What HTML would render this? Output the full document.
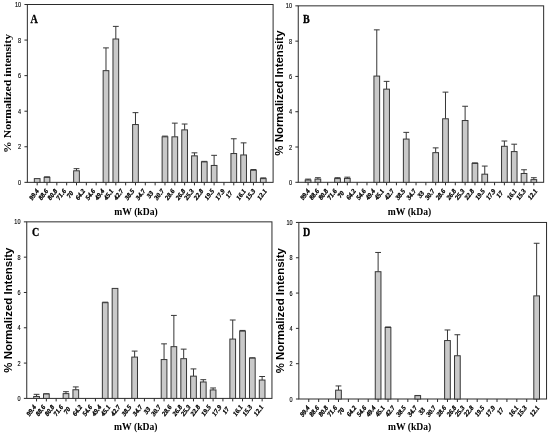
<!DOCTYPE html>
<html><head><meta charset="utf-8"><title>Normalized intensity vs mW</title>
<style>
html,body{margin:0;padding:0;background:#fff;}
body{width:550px;height:435px;overflow:hidden;font-family:"Liberation Sans",sans-serif;}
svg{display:block;will-change:transform;}
.sh{filter:blur(0.2px);}
.tx{filter:blur(0.3px);}
.yt{font-family:"Liberation Sans",sans-serif;font-size:6px;fill:#000;stroke:#000;stroke-width:0.12px;}
.xt{font-family:"Liberation Serif",serif;font-size:6.7px;font-weight:bold;font-style:italic;fill:#000;stroke:#000;stroke-width:0.3px;}
.pl{font-family:"Liberation Serif",serif;font-size:12.9px;font-weight:bold;fill:#000;stroke:#000;stroke-width:0.35px;}
.xl{font-family:"Liberation Serif",serif;font-size:11.2px;font-weight:bold;fill:#000;}
.yls{font-family:"Liberation Serif",serif;font-size:9.7px;font-weight:bold;fill:#000;}
.yl{font-family:"Liberation Sans",sans-serif;font-size:10.4px;font-weight:bold;fill:#000;}
</style></head>
<body>
<svg width="550" height="435" viewBox="0 0 550 435">
<rect x="0" y="0" width="550" height="435" fill="#ffffff"/>
<g class="sh">
<g id="pA" class="shapes">
<rect x="27.35" y="4.5" width="245.75" height="177.85" fill="none" stroke="#2b2b2b" stroke-width="1"/>
<line x1="24.45" y1="182.35" x2="27.35" y2="182.35" stroke="#2b2b2b" stroke-width="1"/>
<line x1="24.45" y1="146.78" x2="27.35" y2="146.78" stroke="#2b2b2b" stroke-width="1"/>
<line x1="24.45" y1="111.21" x2="27.35" y2="111.21" stroke="#2b2b2b" stroke-width="1"/>
<line x1="24.45" y1="75.64" x2="27.35" y2="75.64" stroke="#2b2b2b" stroke-width="1"/>
<line x1="24.45" y1="40.07" x2="27.35" y2="40.07" stroke="#2b2b2b" stroke-width="1"/>
<line x1="24.45" y1="4.5" x2="27.35" y2="4.5" stroke="#2b2b2b" stroke-width="1"/>
<line x1="37.18" y1="182.35" x2="37.18" y2="185.35" stroke="#2b2b2b" stroke-width="1"/>
<line x1="47.01" y1="182.35" x2="47.01" y2="185.35" stroke="#2b2b2b" stroke-width="1"/>
<line x1="56.84" y1="182.35" x2="56.84" y2="185.35" stroke="#2b2b2b" stroke-width="1"/>
<line x1="66.67" y1="182.35" x2="66.67" y2="185.35" stroke="#2b2b2b" stroke-width="1"/>
<line x1="76.5" y1="182.35" x2="76.5" y2="185.35" stroke="#2b2b2b" stroke-width="1"/>
<line x1="86.33" y1="182.35" x2="86.33" y2="185.35" stroke="#2b2b2b" stroke-width="1"/>
<line x1="96.16" y1="182.35" x2="96.16" y2="185.35" stroke="#2b2b2b" stroke-width="1"/>
<line x1="105.99" y1="182.35" x2="105.99" y2="185.35" stroke="#2b2b2b" stroke-width="1"/>
<line x1="115.82" y1="182.35" x2="115.82" y2="185.35" stroke="#2b2b2b" stroke-width="1"/>
<line x1="125.65" y1="182.35" x2="125.65" y2="185.35" stroke="#2b2b2b" stroke-width="1"/>
<line x1="135.48" y1="182.35" x2="135.48" y2="185.35" stroke="#2b2b2b" stroke-width="1"/>
<line x1="145.31" y1="182.35" x2="145.31" y2="185.35" stroke="#2b2b2b" stroke-width="1"/>
<line x1="155.14" y1="182.35" x2="155.14" y2="185.35" stroke="#2b2b2b" stroke-width="1"/>
<line x1="164.97" y1="182.35" x2="164.97" y2="185.35" stroke="#2b2b2b" stroke-width="1"/>
<line x1="174.8" y1="182.35" x2="174.8" y2="185.35" stroke="#2b2b2b" stroke-width="1"/>
<line x1="184.63" y1="182.35" x2="184.63" y2="185.35" stroke="#2b2b2b" stroke-width="1"/>
<line x1="194.46" y1="182.35" x2="194.46" y2="185.35" stroke="#2b2b2b" stroke-width="1"/>
<line x1="204.29" y1="182.35" x2="204.29" y2="185.35" stroke="#2b2b2b" stroke-width="1"/>
<line x1="214.12" y1="182.35" x2="214.12" y2="185.35" stroke="#2b2b2b" stroke-width="1"/>
<line x1="223.95" y1="182.35" x2="223.95" y2="185.35" stroke="#2b2b2b" stroke-width="1"/>
<line x1="233.78" y1="182.35" x2="233.78" y2="185.35" stroke="#2b2b2b" stroke-width="1"/>
<line x1="243.61" y1="182.35" x2="243.61" y2="185.35" stroke="#2b2b2b" stroke-width="1"/>
<line x1="253.44" y1="182.35" x2="253.44" y2="185.35" stroke="#2b2b2b" stroke-width="1"/>
<line x1="263.27" y1="182.35" x2="263.27" y2="185.35" stroke="#2b2b2b" stroke-width="1"/>
<rect x="34.33" y="178.62" width="5.7" height="3.73" fill="#c9c9c9" stroke="#363636" stroke-width="1"/>
<line x1="47.01" y1="177.37" x2="47.01" y2="176.84" stroke="#363636" stroke-width="1"/>
<line x1="44.11" y1="176.84" x2="49.91" y2="176.84" stroke="#363636" stroke-width="1"/>
<rect x="44.16" y="177.37" width="5.7" height="4.98" fill="#c9c9c9" stroke="#363636" stroke-width="1"/>
<line x1="76.5" y1="170.79" x2="76.5" y2="168.66" stroke="#363636" stroke-width="1"/>
<line x1="73.6" y1="168.66" x2="79.4" y2="168.66" stroke="#363636" stroke-width="1"/>
<rect x="73.65" y="170.79" width="5.7" height="11.56" fill="#c9c9c9" stroke="#363636" stroke-width="1"/>
<line x1="105.99" y1="70.66" x2="105.99" y2="47.9" stroke="#363636" stroke-width="1"/>
<line x1="103.09" y1="47.9" x2="108.89" y2="47.9" stroke="#363636" stroke-width="1"/>
<rect x="103.14" y="70.66" width="5.7" height="111.69" fill="#c9c9c9" stroke="#363636" stroke-width="1"/>
<line x1="115.82" y1="39" x2="115.82" y2="26.38" stroke="#363636" stroke-width="1"/>
<line x1="112.92" y1="26.38" x2="118.72" y2="26.38" stroke="#363636" stroke-width="1"/>
<rect x="112.97" y="39" width="5.7" height="143.35" fill="#c9c9c9" stroke="#363636" stroke-width="1"/>
<line x1="135.48" y1="124.55" x2="135.48" y2="112.63" stroke="#363636" stroke-width="1"/>
<line x1="132.58" y1="112.63" x2="138.38" y2="112.63" stroke="#363636" stroke-width="1"/>
<rect x="132.63" y="124.55" width="5.7" height="57.8" fill="#c9c9c9" stroke="#363636" stroke-width="1"/>
<line x1="164.97" y1="136.82" x2="164.97" y2="136.11" stroke="#363636" stroke-width="1"/>
<line x1="162.07" y1="136.11" x2="167.87" y2="136.11" stroke="#363636" stroke-width="1"/>
<rect x="162.12" y="136.82" width="5.7" height="45.53" fill="#c9c9c9" stroke="#363636" stroke-width="1"/>
<line x1="174.8" y1="136.82" x2="174.8" y2="123.13" stroke="#363636" stroke-width="1"/>
<line x1="171.9" y1="123.13" x2="177.7" y2="123.13" stroke="#363636" stroke-width="1"/>
<rect x="171.95" y="136.82" width="5.7" height="45.53" fill="#c9c9c9" stroke="#363636" stroke-width="1"/>
<line x1="184.63" y1="129.88" x2="184.63" y2="124.02" stroke="#363636" stroke-width="1"/>
<line x1="181.73" y1="124.02" x2="187.53" y2="124.02" stroke="#363636" stroke-width="1"/>
<rect x="181.78" y="129.88" width="5.7" height="52.47" fill="#c9c9c9" stroke="#363636" stroke-width="1"/>
<line x1="194.46" y1="155.85" x2="194.46" y2="152.83" stroke="#363636" stroke-width="1"/>
<line x1="191.56" y1="152.83" x2="197.36" y2="152.83" stroke="#363636" stroke-width="1"/>
<rect x="191.61" y="155.85" width="5.7" height="26.5" fill="#c9c9c9" stroke="#363636" stroke-width="1"/>
<line x1="204.29" y1="161.9" x2="204.29" y2="161.36" stroke="#363636" stroke-width="1"/>
<line x1="201.39" y1="161.36" x2="207.19" y2="161.36" stroke="#363636" stroke-width="1"/>
<rect x="201.44" y="161.9" width="5.7" height="20.45" fill="#c9c9c9" stroke="#363636" stroke-width="1"/>
<line x1="214.12" y1="165.45" x2="214.12" y2="155.32" stroke="#363636" stroke-width="1"/>
<line x1="211.22" y1="155.32" x2="217.02" y2="155.32" stroke="#363636" stroke-width="1"/>
<rect x="211.27" y="165.45" width="5.7" height="16.9" fill="#c9c9c9" stroke="#363636" stroke-width="1"/>
<line x1="233.78" y1="153.54" x2="233.78" y2="138.78" stroke="#363636" stroke-width="1"/>
<line x1="230.88" y1="138.78" x2="236.68" y2="138.78" stroke="#363636" stroke-width="1"/>
<rect x="230.93" y="153.54" width="5.7" height="28.81" fill="#c9c9c9" stroke="#363636" stroke-width="1"/>
<line x1="243.61" y1="154.96" x2="243.61" y2="142.87" stroke="#363636" stroke-width="1"/>
<line x1="240.71" y1="142.87" x2="246.51" y2="142.87" stroke="#363636" stroke-width="1"/>
<rect x="240.76" y="154.96" width="5.7" height="27.39" fill="#c9c9c9" stroke="#363636" stroke-width="1"/>
<line x1="253.44" y1="170.26" x2="253.44" y2="169.54" stroke="#363636" stroke-width="1"/>
<line x1="250.54" y1="169.54" x2="256.34" y2="169.54" stroke="#363636" stroke-width="1"/>
<rect x="250.59" y="170.26" width="5.7" height="12.09" fill="#c9c9c9" stroke="#363636" stroke-width="1"/>
<line x1="263.27" y1="178.62" x2="263.27" y2="177.9" stroke="#363636" stroke-width="1"/>
<line x1="260.37" y1="177.9" x2="266.17" y2="177.9" stroke="#363636" stroke-width="1"/>
<rect x="260.42" y="178.62" width="5.7" height="3.73" fill="#c9c9c9" stroke="#363636" stroke-width="1"/>
</g>
<g id="pB" class="shapes">
<rect x="298.25" y="5.85" width="245.4" height="176.45" fill="none" stroke="#2b2b2b" stroke-width="1"/>
<line x1="295.35" y1="182.3" x2="298.25" y2="182.3" stroke="#2b2b2b" stroke-width="1"/>
<line x1="295.35" y1="147.01" x2="298.25" y2="147.01" stroke="#2b2b2b" stroke-width="1"/>
<line x1="295.35" y1="111.72" x2="298.25" y2="111.72" stroke="#2b2b2b" stroke-width="1"/>
<line x1="295.35" y1="76.43" x2="298.25" y2="76.43" stroke="#2b2b2b" stroke-width="1"/>
<line x1="295.35" y1="41.14" x2="298.25" y2="41.14" stroke="#2b2b2b" stroke-width="1"/>
<line x1="295.35" y1="5.85" x2="298.25" y2="5.85" stroke="#2b2b2b" stroke-width="1"/>
<line x1="308.07" y1="182.3" x2="308.07" y2="185.3" stroke="#2b2b2b" stroke-width="1"/>
<line x1="317.88" y1="182.3" x2="317.88" y2="185.3" stroke="#2b2b2b" stroke-width="1"/>
<line x1="327.7" y1="182.3" x2="327.7" y2="185.3" stroke="#2b2b2b" stroke-width="1"/>
<line x1="337.51" y1="182.3" x2="337.51" y2="185.3" stroke="#2b2b2b" stroke-width="1"/>
<line x1="347.33" y1="182.3" x2="347.33" y2="185.3" stroke="#2b2b2b" stroke-width="1"/>
<line x1="357.15" y1="182.3" x2="357.15" y2="185.3" stroke="#2b2b2b" stroke-width="1"/>
<line x1="366.96" y1="182.3" x2="366.96" y2="185.3" stroke="#2b2b2b" stroke-width="1"/>
<line x1="376.78" y1="182.3" x2="376.78" y2="185.3" stroke="#2b2b2b" stroke-width="1"/>
<line x1="386.59" y1="182.3" x2="386.59" y2="185.3" stroke="#2b2b2b" stroke-width="1"/>
<line x1="396.41" y1="182.3" x2="396.41" y2="185.3" stroke="#2b2b2b" stroke-width="1"/>
<line x1="406.23" y1="182.3" x2="406.23" y2="185.3" stroke="#2b2b2b" stroke-width="1"/>
<line x1="416.04" y1="182.3" x2="416.04" y2="185.3" stroke="#2b2b2b" stroke-width="1"/>
<line x1="425.86" y1="182.3" x2="425.86" y2="185.3" stroke="#2b2b2b" stroke-width="1"/>
<line x1="435.67" y1="182.3" x2="435.67" y2="185.3" stroke="#2b2b2b" stroke-width="1"/>
<line x1="445.49" y1="182.3" x2="445.49" y2="185.3" stroke="#2b2b2b" stroke-width="1"/>
<line x1="455.31" y1="182.3" x2="455.31" y2="185.3" stroke="#2b2b2b" stroke-width="1"/>
<line x1="465.12" y1="182.3" x2="465.12" y2="185.3" stroke="#2b2b2b" stroke-width="1"/>
<line x1="474.94" y1="182.3" x2="474.94" y2="185.3" stroke="#2b2b2b" stroke-width="1"/>
<line x1="484.75" y1="182.3" x2="484.75" y2="185.3" stroke="#2b2b2b" stroke-width="1"/>
<line x1="494.57" y1="182.3" x2="494.57" y2="185.3" stroke="#2b2b2b" stroke-width="1"/>
<line x1="504.39" y1="182.3" x2="504.39" y2="185.3" stroke="#2b2b2b" stroke-width="1"/>
<line x1="514.2" y1="182.3" x2="514.2" y2="185.3" stroke="#2b2b2b" stroke-width="1"/>
<line x1="524.02" y1="182.3" x2="524.02" y2="185.3" stroke="#2b2b2b" stroke-width="1"/>
<line x1="533.83" y1="182.3" x2="533.83" y2="185.3" stroke="#2b2b2b" stroke-width="1"/>
<line x1="308.07" y1="180.01" x2="308.07" y2="179.12" stroke="#363636" stroke-width="1"/>
<line x1="305.17" y1="179.12" x2="310.97" y2="179.12" stroke="#363636" stroke-width="1"/>
<rect x="305.22" y="180.01" width="5.7" height="2.29" fill="#c9c9c9" stroke="#363636" stroke-width="1"/>
<line x1="317.88" y1="179.12" x2="317.88" y2="177.71" stroke="#363636" stroke-width="1"/>
<line x1="314.98" y1="177.71" x2="320.78" y2="177.71" stroke="#363636" stroke-width="1"/>
<rect x="315.03" y="179.12" width="5.7" height="3.18" fill="#c9c9c9" stroke="#363636" stroke-width="1"/>
<line x1="337.51" y1="178.59" x2="337.51" y2="177.71" stroke="#363636" stroke-width="1"/>
<line x1="334.61" y1="177.71" x2="340.41" y2="177.71" stroke="#363636" stroke-width="1"/>
<rect x="334.66" y="178.59" width="5.7" height="3.71" fill="#c9c9c9" stroke="#363636" stroke-width="1"/>
<line x1="347.33" y1="178.42" x2="347.33" y2="177.18" stroke="#363636" stroke-width="1"/>
<line x1="344.43" y1="177.18" x2="350.23" y2="177.18" stroke="#363636" stroke-width="1"/>
<rect x="344.48" y="178.42" width="5.7" height="3.88" fill="#c9c9c9" stroke="#363636" stroke-width="1"/>
<line x1="376.78" y1="76.08" x2="376.78" y2="29.85" stroke="#363636" stroke-width="1"/>
<line x1="373.88" y1="29.85" x2="379.68" y2="29.85" stroke="#363636" stroke-width="1"/>
<rect x="373.93" y="76.08" width="5.7" height="106.22" fill="#c9c9c9" stroke="#363636" stroke-width="1"/>
<line x1="386.59" y1="89.13" x2="386.59" y2="81.37" stroke="#363636" stroke-width="1"/>
<line x1="383.69" y1="81.37" x2="389.49" y2="81.37" stroke="#363636" stroke-width="1"/>
<rect x="383.74" y="89.13" width="5.7" height="93.17" fill="#c9c9c9" stroke="#363636" stroke-width="1"/>
<line x1="406.23" y1="139.07" x2="406.23" y2="132.36" stroke="#363636" stroke-width="1"/>
<line x1="403.33" y1="132.36" x2="409.13" y2="132.36" stroke="#363636" stroke-width="1"/>
<rect x="403.38" y="139.07" width="5.7" height="43.23" fill="#c9c9c9" stroke="#363636" stroke-width="1"/>
<line x1="435.67" y1="152.66" x2="435.67" y2="147.89" stroke="#363636" stroke-width="1"/>
<line x1="432.77" y1="147.89" x2="438.57" y2="147.89" stroke="#363636" stroke-width="1"/>
<rect x="432.82" y="152.66" width="5.7" height="29.64" fill="#c9c9c9" stroke="#363636" stroke-width="1"/>
<line x1="445.49" y1="118.78" x2="445.49" y2="92.13" stroke="#363636" stroke-width="1"/>
<line x1="442.59" y1="92.13" x2="448.39" y2="92.13" stroke="#363636" stroke-width="1"/>
<rect x="442.64" y="118.78" width="5.7" height="63.52" fill="#c9c9c9" stroke="#363636" stroke-width="1"/>
<line x1="465.12" y1="120.54" x2="465.12" y2="106.25" stroke="#363636" stroke-width="1"/>
<line x1="462.22" y1="106.25" x2="468.02" y2="106.25" stroke="#363636" stroke-width="1"/>
<rect x="462.27" y="120.54" width="5.7" height="61.76" fill="#c9c9c9" stroke="#363636" stroke-width="1"/>
<line x1="474.94" y1="163.42" x2="474.94" y2="162.89" stroke="#363636" stroke-width="1"/>
<line x1="472.04" y1="162.89" x2="477.84" y2="162.89" stroke="#363636" stroke-width="1"/>
<rect x="472.09" y="163.42" width="5.7" height="18.88" fill="#c9c9c9" stroke="#363636" stroke-width="1"/>
<line x1="484.75" y1="174.18" x2="484.75" y2="166.07" stroke="#363636" stroke-width="1"/>
<line x1="481.85" y1="166.07" x2="487.65" y2="166.07" stroke="#363636" stroke-width="1"/>
<rect x="481.9" y="174.18" width="5.7" height="8.12" fill="#c9c9c9" stroke="#363636" stroke-width="1"/>
<line x1="504.39" y1="146.3" x2="504.39" y2="141.01" stroke="#363636" stroke-width="1"/>
<line x1="501.49" y1="141.01" x2="507.29" y2="141.01" stroke="#363636" stroke-width="1"/>
<rect x="501.54" y="146.3" width="5.7" height="36" fill="#c9c9c9" stroke="#363636" stroke-width="1"/>
<line x1="514.2" y1="151.6" x2="514.2" y2="144.19" stroke="#363636" stroke-width="1"/>
<line x1="511.3" y1="144.19" x2="517.1" y2="144.19" stroke="#363636" stroke-width="1"/>
<rect x="511.35" y="151.6" width="5.7" height="30.7" fill="#c9c9c9" stroke="#363636" stroke-width="1"/>
<line x1="524.02" y1="173.48" x2="524.02" y2="169.77" stroke="#363636" stroke-width="1"/>
<line x1="521.12" y1="169.77" x2="526.92" y2="169.77" stroke="#363636" stroke-width="1"/>
<rect x="521.17" y="173.48" width="5.7" height="8.82" fill="#c9c9c9" stroke="#363636" stroke-width="1"/>
<line x1="533.83" y1="179.65" x2="533.83" y2="177.71" stroke="#363636" stroke-width="1"/>
<line x1="530.93" y1="177.71" x2="536.73" y2="177.71" stroke="#363636" stroke-width="1"/>
<rect x="530.98" y="179.65" width="5.7" height="2.65" fill="#c9c9c9" stroke="#363636" stroke-width="1"/>
</g>
<g id="pC" class="shapes">
<rect x="26.75" y="221.85" width="245.2" height="176.55" fill="none" stroke="#2b2b2b" stroke-width="1"/>
<line x1="23.85" y1="398.4" x2="26.75" y2="398.4" stroke="#2b2b2b" stroke-width="1"/>
<line x1="23.85" y1="363.09" x2="26.75" y2="363.09" stroke="#2b2b2b" stroke-width="1"/>
<line x1="23.85" y1="327.78" x2="26.75" y2="327.78" stroke="#2b2b2b" stroke-width="1"/>
<line x1="23.85" y1="292.47" x2="26.75" y2="292.47" stroke="#2b2b2b" stroke-width="1"/>
<line x1="23.85" y1="257.16" x2="26.75" y2="257.16" stroke="#2b2b2b" stroke-width="1"/>
<line x1="23.85" y1="221.85" x2="26.75" y2="221.85" stroke="#2b2b2b" stroke-width="1"/>
<line x1="36.56" y1="398.4" x2="36.56" y2="401.4" stroke="#2b2b2b" stroke-width="1"/>
<line x1="46.37" y1="398.4" x2="46.37" y2="401.4" stroke="#2b2b2b" stroke-width="1"/>
<line x1="56.17" y1="398.4" x2="56.17" y2="401.4" stroke="#2b2b2b" stroke-width="1"/>
<line x1="65.98" y1="398.4" x2="65.98" y2="401.4" stroke="#2b2b2b" stroke-width="1"/>
<line x1="75.79" y1="398.4" x2="75.79" y2="401.4" stroke="#2b2b2b" stroke-width="1"/>
<line x1="85.6" y1="398.4" x2="85.6" y2="401.4" stroke="#2b2b2b" stroke-width="1"/>
<line x1="95.41" y1="398.4" x2="95.41" y2="401.4" stroke="#2b2b2b" stroke-width="1"/>
<line x1="105.21" y1="398.4" x2="105.21" y2="401.4" stroke="#2b2b2b" stroke-width="1"/>
<line x1="115.02" y1="398.4" x2="115.02" y2="401.4" stroke="#2b2b2b" stroke-width="1"/>
<line x1="124.83" y1="398.4" x2="124.83" y2="401.4" stroke="#2b2b2b" stroke-width="1"/>
<line x1="134.64" y1="398.4" x2="134.64" y2="401.4" stroke="#2b2b2b" stroke-width="1"/>
<line x1="144.45" y1="398.4" x2="144.45" y2="401.4" stroke="#2b2b2b" stroke-width="1"/>
<line x1="154.25" y1="398.4" x2="154.25" y2="401.4" stroke="#2b2b2b" stroke-width="1"/>
<line x1="164.06" y1="398.4" x2="164.06" y2="401.4" stroke="#2b2b2b" stroke-width="1"/>
<line x1="173.87" y1="398.4" x2="173.87" y2="401.4" stroke="#2b2b2b" stroke-width="1"/>
<line x1="183.68" y1="398.4" x2="183.68" y2="401.4" stroke="#2b2b2b" stroke-width="1"/>
<line x1="193.49" y1="398.4" x2="193.49" y2="401.4" stroke="#2b2b2b" stroke-width="1"/>
<line x1="203.29" y1="398.4" x2="203.29" y2="401.4" stroke="#2b2b2b" stroke-width="1"/>
<line x1="213.1" y1="398.4" x2="213.1" y2="401.4" stroke="#2b2b2b" stroke-width="1"/>
<line x1="222.91" y1="398.4" x2="222.91" y2="401.4" stroke="#2b2b2b" stroke-width="1"/>
<line x1="232.72" y1="398.4" x2="232.72" y2="401.4" stroke="#2b2b2b" stroke-width="1"/>
<line x1="242.53" y1="398.4" x2="242.53" y2="401.4" stroke="#2b2b2b" stroke-width="1"/>
<line x1="252.33" y1="398.4" x2="252.33" y2="401.4" stroke="#2b2b2b" stroke-width="1"/>
<line x1="262.14" y1="398.4" x2="262.14" y2="401.4" stroke="#2b2b2b" stroke-width="1"/>
<line x1="36.56" y1="396.46" x2="36.56" y2="394.34" stroke="#363636" stroke-width="1"/>
<line x1="33.66" y1="394.34" x2="39.46" y2="394.34" stroke="#363636" stroke-width="1"/>
<rect x="33.71" y="396.46" width="5.7" height="1.94" fill="#c9c9c9" stroke="#363636" stroke-width="1"/>
<line x1="46.37" y1="393.99" x2="46.37" y2="393.81" stroke="#363636" stroke-width="1"/>
<line x1="43.47" y1="393.81" x2="49.27" y2="393.81" stroke="#363636" stroke-width="1"/>
<rect x="43.52" y="393.99" width="5.7" height="4.41" fill="#c9c9c9" stroke="#363636" stroke-width="1"/>
<line x1="65.98" y1="393.63" x2="65.98" y2="391.69" stroke="#363636" stroke-width="1"/>
<line x1="63.08" y1="391.69" x2="68.88" y2="391.69" stroke="#363636" stroke-width="1"/>
<rect x="63.13" y="393.63" width="5.7" height="4.77" fill="#c9c9c9" stroke="#363636" stroke-width="1"/>
<line x1="75.79" y1="389.75" x2="75.79" y2="386.92" stroke="#363636" stroke-width="1"/>
<line x1="72.89" y1="386.92" x2="78.69" y2="386.92" stroke="#363636" stroke-width="1"/>
<rect x="72.94" y="389.75" width="5.7" height="8.65" fill="#c9c9c9" stroke="#363636" stroke-width="1"/>
<line x1="105.21" y1="302.71" x2="105.21" y2="302.18" stroke="#363636" stroke-width="1"/>
<line x1="102.31" y1="302.18" x2="108.11" y2="302.18" stroke="#363636" stroke-width="1"/>
<rect x="102.36" y="302.71" width="5.7" height="95.69" fill="#c9c9c9" stroke="#363636" stroke-width="1"/>
<rect x="112.17" y="288.41" width="5.7" height="109.99" fill="#c9c9c9" stroke="#363636" stroke-width="1"/>
<line x1="134.64" y1="357.09" x2="134.64" y2="351.08" stroke="#363636" stroke-width="1"/>
<line x1="131.74" y1="351.08" x2="137.54" y2="351.08" stroke="#363636" stroke-width="1"/>
<rect x="131.79" y="357.09" width="5.7" height="41.31" fill="#c9c9c9" stroke="#363636" stroke-width="1"/>
<line x1="164.06" y1="359.56" x2="164.06" y2="343.85" stroke="#363636" stroke-width="1"/>
<line x1="161.16" y1="343.85" x2="166.96" y2="343.85" stroke="#363636" stroke-width="1"/>
<rect x="161.21" y="359.56" width="5.7" height="38.84" fill="#c9c9c9" stroke="#363636" stroke-width="1"/>
<line x1="173.87" y1="346.67" x2="173.87" y2="315.42" stroke="#363636" stroke-width="1"/>
<line x1="170.97" y1="315.42" x2="176.77" y2="315.42" stroke="#363636" stroke-width="1"/>
<rect x="171.02" y="346.67" width="5.7" height="51.73" fill="#c9c9c9" stroke="#363636" stroke-width="1"/>
<line x1="183.68" y1="358.68" x2="183.68" y2="349.14" stroke="#363636" stroke-width="1"/>
<line x1="180.78" y1="349.14" x2="186.58" y2="349.14" stroke="#363636" stroke-width="1"/>
<rect x="180.83" y="358.68" width="5.7" height="39.72" fill="#c9c9c9" stroke="#363636" stroke-width="1"/>
<line x1="193.49" y1="376.15" x2="193.49" y2="368.92" stroke="#363636" stroke-width="1"/>
<line x1="190.59" y1="368.92" x2="196.39" y2="368.92" stroke="#363636" stroke-width="1"/>
<rect x="190.64" y="376.15" width="5.7" height="22.25" fill="#c9c9c9" stroke="#363636" stroke-width="1"/>
<line x1="203.29" y1="381.98" x2="203.29" y2="379.69" stroke="#363636" stroke-width="1"/>
<line x1="200.39" y1="379.69" x2="206.19" y2="379.69" stroke="#363636" stroke-width="1"/>
<rect x="200.44" y="381.98" width="5.7" height="16.42" fill="#c9c9c9" stroke="#363636" stroke-width="1"/>
<line x1="213.1" y1="389.93" x2="213.1" y2="387.98" stroke="#363636" stroke-width="1"/>
<line x1="210.2" y1="387.98" x2="216" y2="387.98" stroke="#363636" stroke-width="1"/>
<rect x="210.25" y="389.93" width="5.7" height="8.47" fill="#c9c9c9" stroke="#363636" stroke-width="1"/>
<line x1="232.72" y1="339.08" x2="232.72" y2="320.01" stroke="#363636" stroke-width="1"/>
<line x1="229.82" y1="320.01" x2="235.62" y2="320.01" stroke="#363636" stroke-width="1"/>
<rect x="229.87" y="339.08" width="5.7" height="59.32" fill="#c9c9c9" stroke="#363636" stroke-width="1"/>
<line x1="242.53" y1="331.13" x2="242.53" y2="330.43" stroke="#363636" stroke-width="1"/>
<line x1="239.63" y1="330.43" x2="245.43" y2="330.43" stroke="#363636" stroke-width="1"/>
<rect x="239.68" y="331.13" width="5.7" height="67.27" fill="#c9c9c9" stroke="#363636" stroke-width="1"/>
<line x1="252.33" y1="358.15" x2="252.33" y2="357.79" stroke="#363636" stroke-width="1"/>
<line x1="249.43" y1="357.79" x2="255.23" y2="357.79" stroke="#363636" stroke-width="1"/>
<rect x="249.48" y="358.15" width="5.7" height="40.25" fill="#c9c9c9" stroke="#363636" stroke-width="1"/>
<line x1="262.14" y1="380.04" x2="262.14" y2="376.51" stroke="#363636" stroke-width="1"/>
<line x1="259.24" y1="376.51" x2="265.04" y2="376.51" stroke="#363636" stroke-width="1"/>
<rect x="259.29" y="380.04" width="5.7" height="18.36" fill="#c9c9c9" stroke="#363636" stroke-width="1"/>
</g>
<g id="pD" class="shapes">
<rect x="298.85" y="222.45" width="247.7" height="176.55" fill="none" stroke="#2b2b2b" stroke-width="1"/>
<line x1="295.95" y1="399" x2="298.85" y2="399" stroke="#2b2b2b" stroke-width="1"/>
<line x1="295.95" y1="363.69" x2="298.85" y2="363.69" stroke="#2b2b2b" stroke-width="1"/>
<line x1="295.95" y1="328.38" x2="298.85" y2="328.38" stroke="#2b2b2b" stroke-width="1"/>
<line x1="295.95" y1="293.07" x2="298.85" y2="293.07" stroke="#2b2b2b" stroke-width="1"/>
<line x1="295.95" y1="257.76" x2="298.85" y2="257.76" stroke="#2b2b2b" stroke-width="1"/>
<line x1="295.95" y1="222.45" x2="298.85" y2="222.45" stroke="#2b2b2b" stroke-width="1"/>
<line x1="308.76" y1="399" x2="308.76" y2="402" stroke="#2b2b2b" stroke-width="1"/>
<line x1="318.67" y1="399" x2="318.67" y2="402" stroke="#2b2b2b" stroke-width="1"/>
<line x1="328.57" y1="399" x2="328.57" y2="402" stroke="#2b2b2b" stroke-width="1"/>
<line x1="338.48" y1="399" x2="338.48" y2="402" stroke="#2b2b2b" stroke-width="1"/>
<line x1="348.39" y1="399" x2="348.39" y2="402" stroke="#2b2b2b" stroke-width="1"/>
<line x1="358.3" y1="399" x2="358.3" y2="402" stroke="#2b2b2b" stroke-width="1"/>
<line x1="368.21" y1="399" x2="368.21" y2="402" stroke="#2b2b2b" stroke-width="1"/>
<line x1="378.11" y1="399" x2="378.11" y2="402" stroke="#2b2b2b" stroke-width="1"/>
<line x1="388.02" y1="399" x2="388.02" y2="402" stroke="#2b2b2b" stroke-width="1"/>
<line x1="397.93" y1="399" x2="397.93" y2="402" stroke="#2b2b2b" stroke-width="1"/>
<line x1="407.84" y1="399" x2="407.84" y2="402" stroke="#2b2b2b" stroke-width="1"/>
<line x1="417.75" y1="399" x2="417.75" y2="402" stroke="#2b2b2b" stroke-width="1"/>
<line x1="427.65" y1="399" x2="427.65" y2="402" stroke="#2b2b2b" stroke-width="1"/>
<line x1="437.56" y1="399" x2="437.56" y2="402" stroke="#2b2b2b" stroke-width="1"/>
<line x1="447.47" y1="399" x2="447.47" y2="402" stroke="#2b2b2b" stroke-width="1"/>
<line x1="457.38" y1="399" x2="457.38" y2="402" stroke="#2b2b2b" stroke-width="1"/>
<line x1="467.29" y1="399" x2="467.29" y2="402" stroke="#2b2b2b" stroke-width="1"/>
<line x1="477.19" y1="399" x2="477.19" y2="402" stroke="#2b2b2b" stroke-width="1"/>
<line x1="487.1" y1="399" x2="487.1" y2="402" stroke="#2b2b2b" stroke-width="1"/>
<line x1="497.01" y1="399" x2="497.01" y2="402" stroke="#2b2b2b" stroke-width="1"/>
<line x1="506.92" y1="399" x2="506.92" y2="402" stroke="#2b2b2b" stroke-width="1"/>
<line x1="516.83" y1="399" x2="516.83" y2="402" stroke="#2b2b2b" stroke-width="1"/>
<line x1="526.73" y1="399" x2="526.73" y2="402" stroke="#2b2b2b" stroke-width="1"/>
<line x1="536.64" y1="399" x2="536.64" y2="402" stroke="#2b2b2b" stroke-width="1"/>
<line x1="338.48" y1="390.17" x2="338.48" y2="385.94" stroke="#363636" stroke-width="1"/>
<line x1="335.58" y1="385.94" x2="341.38" y2="385.94" stroke="#363636" stroke-width="1"/>
<rect x="335.63" y="390.17" width="5.7" height="8.83" fill="#c9c9c9" stroke="#363636" stroke-width="1"/>
<line x1="378.11" y1="271.71" x2="378.11" y2="252.46" stroke="#363636" stroke-width="1"/>
<line x1="375.21" y1="252.46" x2="381.01" y2="252.46" stroke="#363636" stroke-width="1"/>
<rect x="375.26" y="271.71" width="5.7" height="127.29" fill="#c9c9c9" stroke="#363636" stroke-width="1"/>
<line x1="388.02" y1="327.5" x2="388.02" y2="326.97" stroke="#363636" stroke-width="1"/>
<line x1="385.12" y1="326.97" x2="390.92" y2="326.97" stroke="#363636" stroke-width="1"/>
<rect x="385.17" y="327.5" width="5.7" height="71.5" fill="#c9c9c9" stroke="#363636" stroke-width="1"/>
<line x1="417.75" y1="395.65" x2="417.75" y2="395.47" stroke="#363636" stroke-width="1"/>
<line x1="414.85" y1="395.47" x2="420.65" y2="395.47" stroke="#363636" stroke-width="1"/>
<rect x="414.9" y="395.65" width="5.7" height="3.35" fill="#c9c9c9" stroke="#363636" stroke-width="1"/>
<line x1="447.47" y1="340.56" x2="447.47" y2="329.97" stroke="#363636" stroke-width="1"/>
<line x1="444.57" y1="329.97" x2="450.37" y2="329.97" stroke="#363636" stroke-width="1"/>
<rect x="444.62" y="340.56" width="5.7" height="58.44" fill="#c9c9c9" stroke="#363636" stroke-width="1"/>
<line x1="457.38" y1="355.75" x2="457.38" y2="334.74" stroke="#363636" stroke-width="1"/>
<line x1="454.48" y1="334.74" x2="460.28" y2="334.74" stroke="#363636" stroke-width="1"/>
<rect x="454.53" y="355.75" width="5.7" height="43.25" fill="#c9c9c9" stroke="#363636" stroke-width="1"/>
<line x1="536.64" y1="295.89" x2="536.64" y2="243.28" stroke="#363636" stroke-width="1"/>
<line x1="533.74" y1="243.28" x2="539.54" y2="243.28" stroke="#363636" stroke-width="1"/>
<rect x="533.79" y="295.89" width="5.7" height="103.11" fill="#c9c9c9" stroke="#363636" stroke-width="1"/>
</g>
</g>
<g class="tx">
<g id="tA">
<text transform="translate(21.05 184.85) scale(0.92 1.22)" text-anchor="end" class="yt">0</text>
<text transform="translate(21.05 149.28) scale(0.92 1.22)" text-anchor="end" class="yt">2</text>
<text transform="translate(21.05 113.71) scale(0.92 1.22)" text-anchor="end" class="yt">4</text>
<text transform="translate(21.05 78.14) scale(0.92 1.22)" text-anchor="end" class="yt">6</text>
<text transform="translate(21.05 42.57) scale(0.92 1.22)" text-anchor="end" class="yt">8</text>
<text transform="translate(21.05 7) scale(0.92 1.22)" text-anchor="end" class="yt">10</text>
<text transform="translate(34.18 194.55) rotate(-53)" text-anchor="middle" y="2" class="xt">99.4</text>
<text transform="translate(43.41 194.55) rotate(-53)" text-anchor="middle" y="2" class="xt">88.6</text>
<text transform="translate(52.54 194.55) rotate(-53)" text-anchor="middle" y="2" class="xt">80.8</text>
<text transform="translate(61.27 194.55) rotate(-53)" text-anchor="middle" y="2" class="xt">71.6</text>
<text transform="translate(70.1 194.55) rotate(-53)" text-anchor="middle" y="2" class="xt">70</text>
<text transform="translate(80.43 194.55) rotate(-53)" text-anchor="middle" y="2" class="xt">64.2</text>
<text transform="translate(90.36 194.55) rotate(-53)" text-anchor="middle" y="2" class="xt">54.6</text>
<text transform="translate(99.59 194.55) rotate(-53)" text-anchor="middle" y="2" class="xt">49.4</text>
<text transform="translate(108.72 194.55) rotate(-53)" text-anchor="middle" y="2" class="xt">45.1</text>
<text transform="translate(118.65 194.55) rotate(-53)" text-anchor="middle" y="2" class="xt">42.7</text>
<text transform="translate(129.68 194.55) rotate(-53)" text-anchor="middle" y="2" class="xt">38.5</text>
<text transform="translate(140.71 194.55) rotate(-53)" text-anchor="middle" y="2" class="xt">34.7</text>
<text transform="translate(150.14 194.55) rotate(-53)" text-anchor="middle" y="2" class="xt">33</text>
<text transform="translate(159.27 194.55) rotate(-53)" text-anchor="middle" y="2" class="xt">30.7</text>
<text transform="translate(170 194.55) rotate(-53)" text-anchor="middle" y="2" class="xt">28.6</text>
<text transform="translate(180.63 194.55) rotate(-53)" text-anchor="middle" y="2" class="xt">26.8</text>
<text transform="translate(189.16 194.55) rotate(-53)" text-anchor="middle" y="2" class="xt">25.3</text>
<text transform="translate(198.69 194.55) rotate(-53)" text-anchor="middle" y="2" class="xt">22.8</text>
<text transform="translate(209.42 194.55) rotate(-53)" text-anchor="middle" y="2" class="xt">19.5</text>
<text transform="translate(220.25 194.55) rotate(-53)" text-anchor="middle" y="2" class="xt">17.9</text>
<text transform="translate(229.18 194.55) rotate(-53)" text-anchor="middle" y="2" class="xt">17</text>
<text transform="translate(241.21 194.55) rotate(-53)" text-anchor="middle" y="2" class="xt">16.1</text>
<text transform="translate(250.64 194.55) rotate(-53)" text-anchor="middle" y="2" class="xt">15.3</text>
<text transform="translate(262.07 194.55) rotate(-53)" text-anchor="middle" y="2" class="xt">12.1</text>
<text transform="translate(30.5 22.6) scale(0.78 1)" class="pl">A</text>
<text x="136" y="214.6" text-anchor="middle" class="xl" textLength="43.4" lengthAdjust="spacingAndGlyphs">mW (kDa)</text>
<text transform="translate(10.65 93.42) rotate(-90)" text-anchor="middle" class="yls" textLength="119" lengthAdjust="spacingAndGlyphs">% Normalized intensity</text>
</g>
<g id="tB">
<text transform="translate(291.95 184.8) scale(0.92 1.22)" text-anchor="end" class="yt">0</text>
<text transform="translate(291.95 149.51) scale(0.92 1.22)" text-anchor="end" class="yt">2</text>
<text transform="translate(291.95 114.22) scale(0.92 1.22)" text-anchor="end" class="yt">4</text>
<text transform="translate(291.95 78.93) scale(0.92 1.22)" text-anchor="end" class="yt">6</text>
<text transform="translate(291.95 43.64) scale(0.92 1.22)" text-anchor="end" class="yt">8</text>
<text transform="translate(291.95 8.35) scale(0.92 1.22)" text-anchor="end" class="yt">10</text>
<text transform="translate(305.07 194.5) rotate(-53)" text-anchor="middle" y="2" class="xt">99.4</text>
<text transform="translate(314.28 194.5) rotate(-53)" text-anchor="middle" y="2" class="xt">88.6</text>
<text transform="translate(323.4 194.5) rotate(-53)" text-anchor="middle" y="2" class="xt">80.8</text>
<text transform="translate(332.11 194.5) rotate(-53)" text-anchor="middle" y="2" class="xt">71.6</text>
<text transform="translate(340.93 194.5) rotate(-53)" text-anchor="middle" y="2" class="xt">70</text>
<text transform="translate(351.25 194.5) rotate(-53)" text-anchor="middle" y="2" class="xt">64.2</text>
<text transform="translate(361.16 194.5) rotate(-53)" text-anchor="middle" y="2" class="xt">54.6</text>
<text transform="translate(370.38 194.5) rotate(-53)" text-anchor="middle" y="2" class="xt">49.4</text>
<text transform="translate(379.49 194.5) rotate(-53)" text-anchor="middle" y="2" class="xt">45.1</text>
<text transform="translate(389.41 194.5) rotate(-53)" text-anchor="middle" y="2" class="xt">42.7</text>
<text transform="translate(400.43 194.5) rotate(-53)" text-anchor="middle" y="2" class="xt">38.5</text>
<text transform="translate(411.44 194.5) rotate(-53)" text-anchor="middle" y="2" class="xt">34.7</text>
<text transform="translate(420.86 194.5) rotate(-53)" text-anchor="middle" y="2" class="xt">33</text>
<text transform="translate(429.97 194.5) rotate(-53)" text-anchor="middle" y="2" class="xt">30.7</text>
<text transform="translate(440.69 194.5) rotate(-53)" text-anchor="middle" y="2" class="xt">28.6</text>
<text transform="translate(451.31 194.5) rotate(-53)" text-anchor="middle" y="2" class="xt">26.8</text>
<text transform="translate(459.82 194.5) rotate(-53)" text-anchor="middle" y="2" class="xt">25.3</text>
<text transform="translate(469.34 194.5) rotate(-53)" text-anchor="middle" y="2" class="xt">22.8</text>
<text transform="translate(480.05 194.5) rotate(-53)" text-anchor="middle" y="2" class="xt">19.5</text>
<text transform="translate(490.87 194.5) rotate(-53)" text-anchor="middle" y="2" class="xt">17.9</text>
<text transform="translate(499.79 194.5) rotate(-53)" text-anchor="middle" y="2" class="xt">17</text>
<text transform="translate(511.8 194.5) rotate(-53)" text-anchor="middle" y="2" class="xt">16.1</text>
<text transform="translate(521.22 194.5) rotate(-53)" text-anchor="middle" y="2" class="xt">15.3</text>
<text transform="translate(532.63 194.5) rotate(-53)" text-anchor="middle" y="2" class="xt">12.1</text>
<text transform="translate(303 22.8) scale(0.78 1)" class="pl">B</text>
<text x="409.5" y="214.6" text-anchor="middle" class="xl" textLength="43.4" lengthAdjust="spacingAndGlyphs">mW (kDa)</text>
<text transform="translate(283.15 93.08) rotate(-90)" text-anchor="middle" class="yl" textLength="125.2" lengthAdjust="spacingAndGlyphs">% Normalized Intensity</text>
</g>
<g id="tC">
<text transform="translate(20.45 400.9) scale(0.92 1.22)" text-anchor="end" class="yt">0</text>
<text transform="translate(20.45 365.59) scale(0.92 1.22)" text-anchor="end" class="yt">2</text>
<text transform="translate(20.45 330.28) scale(0.92 1.22)" text-anchor="end" class="yt">4</text>
<text transform="translate(20.45 294.97) scale(0.92 1.22)" text-anchor="end" class="yt">6</text>
<text transform="translate(20.45 259.66) scale(0.92 1.22)" text-anchor="end" class="yt">8</text>
<text transform="translate(20.45 224.35) scale(0.92 1.22)" text-anchor="end" class="yt">10</text>
<text transform="translate(31.36 410.6) rotate(-53)" text-anchor="middle" y="2" class="xt">99.4</text>
<text transform="translate(40.57 410.6) rotate(-53)" text-anchor="middle" y="2" class="xt">88.6</text>
<text transform="translate(49.67 410.6) rotate(-53)" text-anchor="middle" y="2" class="xt">80.8</text>
<text transform="translate(58.38 410.6) rotate(-53)" text-anchor="middle" y="2" class="xt">71.6</text>
<text transform="translate(67.19 410.6) rotate(-53)" text-anchor="middle" y="2" class="xt">70</text>
<text transform="translate(77.5 410.6) rotate(-53)" text-anchor="middle" y="2" class="xt">64.2</text>
<text transform="translate(87.41 410.6) rotate(-53)" text-anchor="middle" y="2" class="xt">54.6</text>
<text transform="translate(96.61 410.6) rotate(-53)" text-anchor="middle" y="2" class="xt">49.4</text>
<text transform="translate(105.72 410.6) rotate(-53)" text-anchor="middle" y="2" class="xt">45.1</text>
<text transform="translate(115.63 410.6) rotate(-53)" text-anchor="middle" y="2" class="xt">42.7</text>
<text transform="translate(126.64 410.6) rotate(-53)" text-anchor="middle" y="2" class="xt">38.5</text>
<text transform="translate(137.65 410.6) rotate(-53)" text-anchor="middle" y="2" class="xt">34.7</text>
<text transform="translate(147.05 410.6) rotate(-53)" text-anchor="middle" y="2" class="xt">33</text>
<text transform="translate(156.16 410.6) rotate(-53)" text-anchor="middle" y="2" class="xt">30.7</text>
<text transform="translate(166.87 410.6) rotate(-53)" text-anchor="middle" y="2" class="xt">28.6</text>
<text transform="translate(177.48 410.6) rotate(-53)" text-anchor="middle" y="2" class="xt">26.8</text>
<text transform="translate(185.99 410.6) rotate(-53)" text-anchor="middle" y="2" class="xt">25.3</text>
<text transform="translate(195.49 410.6) rotate(-53)" text-anchor="middle" y="2" class="xt">22.8</text>
<text transform="translate(206.2 410.6) rotate(-53)" text-anchor="middle" y="2" class="xt">19.5</text>
<text transform="translate(217.01 410.6) rotate(-53)" text-anchor="middle" y="2" class="xt">17.9</text>
<text transform="translate(225.92 410.6) rotate(-53)" text-anchor="middle" y="2" class="xt">17</text>
<text transform="translate(237.93 410.6) rotate(-53)" text-anchor="middle" y="2" class="xt">16.1</text>
<text transform="translate(247.33 410.6) rotate(-53)" text-anchor="middle" y="2" class="xt">15.3</text>
<text transform="translate(258.74 410.6) rotate(-53)" text-anchor="middle" y="2" class="xt">12.1</text>
<text transform="translate(31.9 236) scale(0.78 1)" class="pl">C</text>
<text x="135.8" y="430" text-anchor="middle" class="xl" textLength="43.4" lengthAdjust="spacingAndGlyphs">mW (kDa)</text>
<text transform="translate(11.65 310.12) rotate(-90)" text-anchor="middle" class="yl" textLength="125.2" lengthAdjust="spacingAndGlyphs">% Normalized Intensity</text>
</g>
<g id="tD">
<text transform="translate(292.55 401.5) scale(0.92 1.22)" text-anchor="end" class="yt">0</text>
<text transform="translate(292.55 366.19) scale(0.92 1.22)" text-anchor="end" class="yt">2</text>
<text transform="translate(292.55 330.88) scale(0.92 1.22)" text-anchor="end" class="yt">4</text>
<text transform="translate(292.55 295.57) scale(0.92 1.22)" text-anchor="end" class="yt">6</text>
<text transform="translate(292.55 260.26) scale(0.92 1.22)" text-anchor="end" class="yt">8</text>
<text transform="translate(292.55 224.95) scale(0.92 1.22)" text-anchor="end" class="yt">10</text>
<text transform="translate(304.96 411.2) rotate(-53)" text-anchor="middle" y="2" class="xt">99.4</text>
<text transform="translate(314.27 411.2) rotate(-53)" text-anchor="middle" y="2" class="xt">88.6</text>
<text transform="translate(323.47 411.2) rotate(-53)" text-anchor="middle" y="2" class="xt">80.8</text>
<text transform="translate(332.28 411.2) rotate(-53)" text-anchor="middle" y="2" class="xt">71.6</text>
<text transform="translate(341.19 411.2) rotate(-53)" text-anchor="middle" y="2" class="xt">70</text>
<text transform="translate(351.6 411.2) rotate(-53)" text-anchor="middle" y="2" class="xt">64.2</text>
<text transform="translate(361.61 411.2) rotate(-53)" text-anchor="middle" y="2" class="xt">54.6</text>
<text transform="translate(370.91 411.2) rotate(-53)" text-anchor="middle" y="2" class="xt">49.4</text>
<text transform="translate(380.12 411.2) rotate(-53)" text-anchor="middle" y="2" class="xt">45.1</text>
<text transform="translate(390.13 411.2) rotate(-53)" text-anchor="middle" y="2" class="xt">42.7</text>
<text transform="translate(401.24 411.2) rotate(-53)" text-anchor="middle" y="2" class="xt">38.5</text>
<text transform="translate(412.35 411.2) rotate(-53)" text-anchor="middle" y="2" class="xt">34.7</text>
<text transform="translate(421.85 411.2) rotate(-53)" text-anchor="middle" y="2" class="xt">33</text>
<text transform="translate(431.06 411.2) rotate(-53)" text-anchor="middle" y="2" class="xt">30.7</text>
<text transform="translate(441.37 411.2) rotate(-53)" text-anchor="middle" y="2" class="xt">28.6</text>
<text transform="translate(451.58 411.2) rotate(-53)" text-anchor="middle" y="2" class="xt">26.8</text>
<text transform="translate(459.89 411.2) rotate(-53)" text-anchor="middle" y="2" class="xt">25.3</text>
<text transform="translate(468.79 411.2) rotate(-53)" text-anchor="middle" y="2" class="xt">22.8</text>
<text transform="translate(479.6 411.2) rotate(-53)" text-anchor="middle" y="2" class="xt">19.5</text>
<text transform="translate(490.51 411.2) rotate(-53)" text-anchor="middle" y="2" class="xt">17.9</text>
<text transform="translate(500.52 411.2) rotate(-53)" text-anchor="middle" y="2" class="xt">17</text>
<text transform="translate(513.63 411.2) rotate(-53)" text-anchor="middle" y="2" class="xt">16.1</text>
<text transform="translate(522.13 411.2) rotate(-53)" text-anchor="middle" y="2" class="xt">15.3</text>
<text transform="translate(534.64 411.2) rotate(-53)" text-anchor="middle" y="2" class="xt">12.1</text>
<text transform="translate(303 236) scale(0.78 1)" class="pl">D</text>
<text x="409.6" y="430" text-anchor="middle" class="xl" textLength="43.4" lengthAdjust="spacingAndGlyphs">mW (kDa)</text>
<text transform="translate(283.75 310.73) rotate(-90)" text-anchor="middle" class="yl" textLength="125.2" lengthAdjust="spacingAndGlyphs">% Normalized Intensity</text>
</g>
</g>
</svg>
</body></html>
